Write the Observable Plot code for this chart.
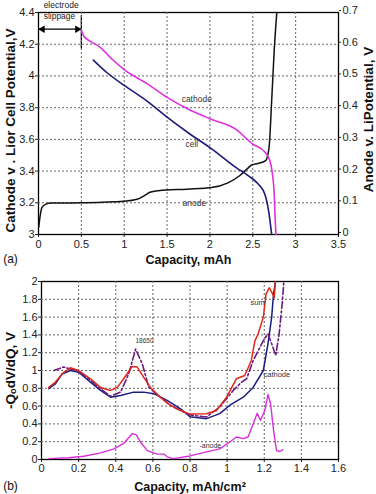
<!DOCTYPE html>
<html><head><meta charset="utf-8">
<script src="https://cdn.jsdelivr.net/npm/d3@7"></script>
<script src="https://cdn.jsdelivr.net/npm/@observablehq/plot@0.6"></script>
<style>
body{margin:0;background:#fff;}
#chart{width:376px;height:494px;overflow:hidden;}
#chart svg{display:block;}
</style>
</head><body><div id="chart"></div>
<script>
// ---------- Panel (a) data ----------
const capCathode = [0.5,0.53,0.6,0.72,0.85,1.0,1.27,1.5,1.75,2.0,2.3,2.5,2.64,2.70,2.73,2.75,2.76,2.77];
const vCathode   = [4.29,4.25,4.22,4.18,4.11,4.04,3.95,3.865,3.79,3.73,3.665,3.57,3.52,3.465,3.38,3.255,3.11,3.0];
const capCell = [0.64,0.8,1.0,1.27,1.5,1.75,2.02,2.31,2.45,2.56,2.64,2.69,2.72];
const vCell   = [4.10,4.02,3.94,3.84,3.74,3.64,3.54,3.42,3.37,3.32,3.255,3.13,3.0];
const capAnode = [0.003,0.02,0.04,0.08,0.15,0.5,1.0,1.15,1.25,1.3,1.4,1.73,2.02,2.21,2.35,2.45,2.49,2.56,2.65,2.69,2.72,2.75,2.78];
const vAnode   = [0.023,0.06,0.085,0.095,0.099,0.10,0.105,0.111,0.125,0.133,0.138,0.143,0.148,0.163,0.186,0.211,0.22,0.224,0.233,0.275,0.42,0.58,0.7];
const xTicksA = [0,0.5,1,1.5,2,2.5,3,3.5];
const yTicksA = [3,3.2,3.4,3.6,3.8,4,4.2,4.4];
const anodeTicks = [0,0.1,0.2,0.3,0.4,0.5,0.6,0.7];
const labelsA = [
  {x:1.67, y:3.85, text:"cathode"},
  {x:1.715, y:3.572, text:"cell"},
  {x:1.68, y:3.2, text:"anode"}
];
const slipNotes = [{x:0.06, y:4.445, text:"electrode"},{x:0.06, y:4.375, text:"slippage"}];
const slipRange = [0, 0.5];
const slipLevel = 4.295;
const slipBar = [4.17, 4.38];

// ---------- Panel (b) data ----------
const capSum = [0.039,0.075,0.12,0.156,0.20,0.264,0.318,0.372,0.408,0.443,0.488,0.515,0.55,0.587,0.64,0.695,0.749,0.80,0.889,0.943,0.997,1.05,1.095,1.13,1.15,1.167,1.195,1.21,1.227,1.245,1.254,1.26];
const dSum   = [0.81,0.87,0.98,1.03,1.0,0.907,0.81,0.776,0.81,0.907,1.045,1.04,0.925,0.81,0.70,0.608,0.55,0.51,0.515,0.55,0.70,0.907,0.944,1.11,1.335,1.41,1.60,1.86,1.93,1.86,1.82,2.0];
const capCath = [0.039,0.075,0.11,0.156,0.20,0.264,0.318,0.372,0.426,0.497,0.55,0.605,0.677,0.749,0.80,0.889,0.96,1.015,1.087,1.14,1.195,1.22,1.24,1.25,1.26];
const dCath   = [0.795,0.85,0.96,1.0,0.98,0.87,0.776,0.70,0.72,0.757,0.757,0.74,0.664,0.57,0.48,0.459,0.515,0.61,0.70,0.81,1.0,1.30,1.60,1.86,1.99];
const cap18650 = [0.066,0.12,0.2,0.264,0.318,0.372,0.426,0.47,0.507,0.543,0.578,0.64,0.7,0.75,0.8,0.889,0.96,1.033,1.078,1.105,1.14,1.167,1.195,1.22,1.24,1.262,1.28,1.298,1.305];
const d18650   = [1.0,1.04,0.99,0.89,0.795,0.71,0.757,0.963,1.24,1.075,0.81,0.70,0.60,0.55,0.50,0.477,0.59,0.776,0.87,0.907,1.11,1.22,1.335,1.41,1.30,1.17,1.41,1.78,1.99];
const capAn = [0.04,0.145,0.228,0.318,0.39,0.443,0.488,0.51,0.533,0.57,0.623,0.66,0.677,0.71,0.80,0.889,0.96,1.015,1.05,1.087,1.113,1.14,1.162,1.18,1.203,1.22,1.234,1.25,1.266,1.284,1.30];
const dAn   = [0.01,0.02,0.037,0.074,0.12,0.18,0.29,0.28,0.197,0.10,0.06,0.06,0.03,0.01,0.04,0.085,0.12,0.197,0.253,0.235,0.253,0.40,0.52,0.44,0.55,0.73,0.63,0.33,0.10,0.09,0.11];
const xTicksB = [0,0.2,0.4,0.6,0.8,1,1.2,1.4,1.6];
const yTicksB = [0,0.2,0.4,0.6,0.8,1,1.2,1.4,1.6,1.8,2];
const labelsB = [
  {x:0.506, y:1.336, text:"18650", size:6.5},
  {x:1.126, y:1.765, text:"sum", size:7.5},
  {x:1.196, y:0.955, text:"cathode", size:7.5},
  {x:0.851, y:0.149, text:"-anode", size:7}
];

// ---------- helpers ----------
const font = "'Liberation Sans', Arial, Helvetica, sans-serif";
const zip = (xs, ys) => xs.map((x, i) => ({x, y: ys[i]}));
const fmt = d => String(+(+d).toFixed(2));
const toLeft = v => 3 + 2 * v;
const gridStyle = {stroke: "#666", strokeOpacity: 1, strokeDasharray: "2,2", strokeWidth: 1};
const inner = a => a.slice(1, -1);

// ---------- Panel (a) ----------
const plotA = Plot.plot({
  width: 376, height: 270,
  marginLeft: 38, marginRight: 38, marginTop: 12, marginBottom: 36,
  style: {fontFamily: font, fontSize: "11px", color: "#222", background: "#fff", overflow: "visible"},
  x: {domain: [0, 3.5], axis: null},
  y: {domain: [3, 4.4], axis: null},
  marks: [
    Plot.axisX({ticks: xTicksA, tickFormat: fmt, tickSize: 3, tickPadding: 3, label: null}),
    Plot.axisY({anchor: "left", ticks: yTicksA, tickFormat: fmt, tickSize: 3, tickPadding: 1, label: null}),
    Plot.axisY({anchor: "right", ticks: anodeTicks.map(toLeft), tickFormat: d => fmt((d - 3) / 2), tickSize: 2, tickPadding: 2, dy: -2, label: null}),
    // electrode slippage annotation
    Plot.ruleY([slipLevel], {x1: slipRange[0], x2: slipRange[1], stroke: "#000", strokeWidth: 1.3}),
    Plot.dot([{x: slipRange[0], y: slipLevel}], {x: "x", y: "y", symbol: "triangle", rotate: -90, r: 2.8, fill: "#000", dx: 4}),
    Plot.dot([{x: slipRange[1], y: slipLevel}], {x: "x", y: "y", symbol: "triangle", rotate: 90, r: 2.8, fill: "#000", dx: -4}),
    Plot.ruleX([slipRange[1]], {y1: slipBar[0], y2: slipBar[1], stroke: "#000", strokeWidth: 1.3}),
    Plot.text(slipNotes, {x: "x", y: "y", text: "text", textAnchor: "start", fontSize: 8.5, fill: "#222"}),
    // axis titles
    Plot.text(["Capacity, mAh"], {text: d => d, frameAnchor: "bottom", textAnchor: "middle", lineAnchor: "middle", dy: 25, fontWeight: "bold", fontSize: 12.5, fill: "#111"}),
    Plot.text(["(a)"], {text: d => d, frameAnchor: "bottom-left", textAnchor: "middle", lineAnchor: "middle", dx: -28, dy: 25, fontSize: 12, fill: "#111"}),
    Plot.text(["Cathode v . Lior Cell Potential,V"], {text: d => d, frameAnchor: "left", rotate: -90, textAnchor: "middle", lineAnchor: "middle", dx: -28, dy: 7, fontWeight: "bold", fontSize: 13.5, fill: "#111"}),
    Plot.text(["Anode v. LiPotential, V"], {text: d => d, frameAnchor: "right", rotate: -90, textAnchor: "middle", lineAnchor: "middle", dx: 30, dy: -4, fontWeight: "bold", fontSize: 13.5, fill: "#111"}),
    Plot.frame({stroke: "#000", strokeWidth: 1.3}),
    // grid, then curves on top
    Plot.ruleX(inner(xTicksA), gridStyle),
    Plot.ruleY(inner(yTicksA), gridStyle),
    Plot.line(zip(capAnode, vAnode), {x: "x", y: d => toLeft(d.y), stroke: "#111", strokeWidth: 1.5, curve: "monotone-x"}),
    Plot.line(zip(capCell, vCell), {x: "x", y: "y", stroke: "#1c1c78", strokeWidth: 1.6, curve: "monotone-x"}),
    Plot.line(zip(capCathode, vCathode), {x: "x", y: "y", stroke: "#e030e0", strokeWidth: 1.6, curve: "monotone-x"}),
    Plot.text(labelsA, {x: "x", y: "y", text: "text", textAnchor: "start", fontSize: 8.5, fill: "#333"})
  ]
});

// ---------- Panel (b) ----------
const plotB = Plot.plot({
  width: 376, height: 224,
  marginLeft: 41, marginRight: 38, marginTop: 11, marginBottom: 35,
  style: {fontFamily: font, fontSize: "11px", color: "#222", background: "#fff", overflow: "visible"},
  x: {domain: [0, 1.6], axis: null},
  y: {domain: [0, 2], axis: null},
  marks: [
    Plot.axisX({ticks: xTicksB, tickFormat: fmt, tickSize: 3, tickPadding: 2, label: null}),
    Plot.axisY({anchor: "left", ticks: yTicksB, tickFormat: fmt, tickSize: 3, tickPadding: 1, label: null}),
    Plot.text(["Capacity, mAh/cm\u00B2"], {text: d => d, frameAnchor: "bottom", textAnchor: "middle", lineAnchor: "middle", dy: 27, fontWeight: "bold", fontSize: 12.5, fill: "#111"}),
    Plot.text(["(b)"], {text: d => d, frameAnchor: "bottom-left", textAnchor: "middle", lineAnchor: "middle", dx: -31, dy: 27, fontSize: 12, fill: "#111"}),
    Plot.text(["-Q\u2092dV/dQ, V"], {text: d => d, frameAnchor: "left", rotate: -90, textAnchor: "middle", lineAnchor: "middle", dx: -31, dy: 0, fontWeight: "bold", fontSize: 13.5, fill: "#111"}),
    Plot.frame({stroke: "#000", strokeWidth: 1.3}),
    Plot.ruleX(inner(xTicksB), gridStyle),
    Plot.ruleY(inner(yTicksB), gridStyle),
    Plot.line(zip(capAn, dAn), {x: "x", y: "y", stroke: "#d830d8", strokeWidth: 1.4}),
    Plot.line(zip(capCath, dCath), {x: "x", y: "y", stroke: "#1c1c80", strokeWidth: 1.5}),
    Plot.line(zip(cap18650, d18650), {x: "x", y: "y", stroke: "#6c1a80", strokeWidth: 1.6, strokeDasharray: "7,2.5,2,2.5"}),
    Plot.line(zip(capSum, dSum), {x: "x", y: "y", stroke: "#e0281a", strokeWidth: 1.5}),
    Plot.text(labelsB, {x: "x", y: "y", text: "text", textAnchor: "start", fontSize: d => d.size, fill: "#333"})
  ]
});

const chart = document.getElementById("chart");
chart.appendChild(plotA);
chart.appendChild(plotB);
</script></body></html>
